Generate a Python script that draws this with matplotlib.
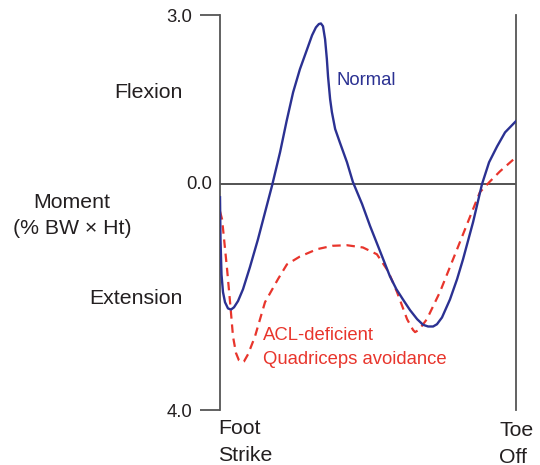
import matplotlib
matplotlib.use("Agg")
import matplotlib.pyplot as plt

plt.rcParams['font.family'] = ['Liberation Sans', 'DejaVu Sans']

# Gait cycle (%) and knee moment (% BW x Ht), flexion positive
normal_x = [0, 0.17, 0.51, 1.01, 1.69, 2.70, 3.72, 4.73, 6.08, 7.77, 10.1, 12.8, 15.2, 17.6,
            20.3, 22.5, 24.7, 27.0, 29.4, 31.1, 32.4, 33.4, 34.1, 34.8, 35.5, 36.1, 36.5,
            37.2, 37.8, 38.9, 40.5, 42.9, 44.9, 48.0, 50.7, 54.1, 57.4, 59.6, 61.8, 64.2,
            66.6, 68.6, 70.3, 72.0, 73.3, 75.0, 77.7, 80.1, 82.1, 85.5, 88.5, 90.9, 93.6,
            96.3, 100]
normal_y = [-0.23, -0.98, -1.60, -1.91, -2.09, -2.20, -2.22, -2.18, -2.07, -1.86, -1.47, -0.98,
            -0.50, -0.02, 0.57, 1.12, 1.63, 2.04, 2.39, 2.64, 2.78, 2.84, 2.85, 2.80, 2.57,
            2.22, 1.91, 1.51, 1.28, 0.98, 0.74, 0.39, 0.04, -0.35, -0.74, -1.19, -1.63,
            -1.86, -2.04, -2.23, -2.39, -2.49, -2.52, -2.52, -2.48, -2.36, -2.04, -1.68,
            -1.33, -0.67, 0.0, 0.39, 0.67, 0.92, 1.12]

acl_x = [0, 0.7, 2.4, 3.4, 4.4, 5.4, 6.4, 7.4, 8.1, 9.5, 11.8, 15.2, 19.6, 22.6, 27.0,
         32.8, 38.0, 42.9, 48.3, 53.0, 56.8, 59.8, 63.2, 65.2, 65.9, 67.2, 69.9, 74.3,
         80.1, 84.5, 87.8, 91.2, 94.6, 100]
acl_y = [-0.48, -0.62, -1.51, -2.09, -2.70, -2.99, -3.12, -3.16, -3.14, -3.01, -2.70,
         -2.09, -1.68, -1.42, -1.28, -1.15, -1.09, -1.08, -1.12, -1.24, -1.54, -1.91,
         -2.39, -2.58, -2.62, -2.58, -2.39, -1.91, -1.15, -0.57, -0.14, 0.05, 0.23, 0.48]

ytick_vals = [-4, 3]
ytick_labels = ['4.0', '3.0']

W, H = 540, 465
fig = plt.figure(figsize=(W / 100, H / 100), dpi=100)
ax = fig.add_axes([220 / W, 55 / H, 296 / W, 395 / H])
ax.set_xlim(0, 100)
ax.set_ylim(-4, 3)

axis_col = '#555555'
blue = '#2b3192'
red = '#e8352c'
txt = '#231f20'

for s in ['top', 'bottom']:
    ax.spines[s].set_visible(False)
for s in ['left', 'right']:
    ax.spines[s].set_color(axis_col)
    ax.spines[s].set_linewidth(1.3)

ax.set_xticks([])
ax.set_yticks(ytick_vals, ytick_labels)
ax.tick_params(axis='y', length=14.4, width=1.3, color=axis_col, pad=5.5,
               labelsize=13.3, labelcolor=txt, right=False)

ax.axhline(0, color='#444444', lw=1.3, zorder=1)
ax.text(-2.7, 0, '0.0', ha='right', va='center', fontsize=13.3, color=txt, clip_on=False)

ax.plot(normal_x, normal_y, color=blue, lw=1.7, solid_joinstyle='round', zorder=3)
ax.plot(acl_x, acl_y, color=red, lw=1.6, dashes=(3.8, 2.6), zorder=2)

def ftext(px, py, s, size=15.3, **kw):
    fig.text(px / W, 1 - py / H, s, fontsize=size, color=kw.pop('color', txt), **kw)

ftext(183, 92, 'Flexion', ha='right', va='center')
ftext(72, 202, 'Moment', ha='center', va='center')
ftext(72, 229, '(% BW \u00d7 Ht)', ha='center', va='center')
ftext(183, 298, 'Extension', ha='right', va='center')
ftext(218, 428, 'Foot', ha='left', va='center')
ftext(218, 455, 'Strike', ha='left', va='center')
ftext(499, 430, 'Toe', ha='left', va='center')
ftext(499, 457, 'Off', ha='left', va='center')
ftext(337, 80, 'Normal', size=13.3, ha='left', va='center', color=blue)
ftext(263, 335, 'ACL-deficient', size=13.3, ha='left', va='center', color=red)
ftext(263, 360, 'Quadriceps avoidance', size=13.3, ha='left', va='center', color=red)

fig.savefig('out.png', dpi=100)
